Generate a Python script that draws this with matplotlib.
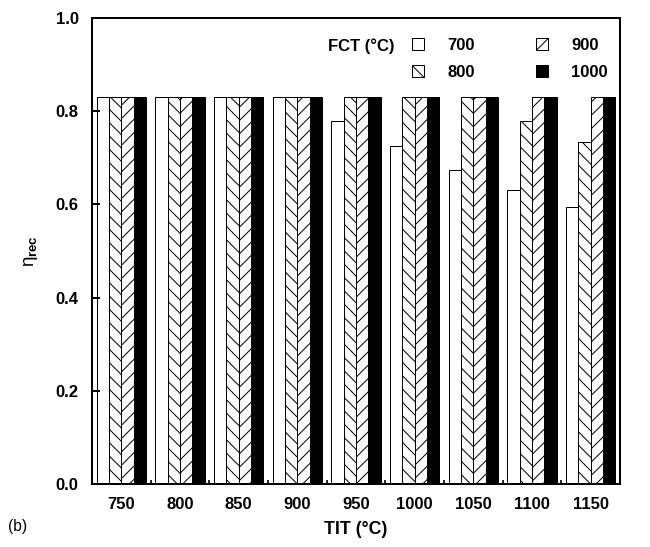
import numpy as np
import matplotlib.pyplot as plt

plt.rcParams['font.family'] = ['Liberation Sans', 'DejaVu Sans']
plt.rcParams['hatch.linewidth'] = 0.9
plt.rcParams['mathtext.fontset'] = 'custom'
plt.rcParams['mathtext.rm'] = 'Liberation Sans'
plt.rcParams['mathtext.bf'] = 'Liberation Sans:bold'
plt.rcParams['mathtext.it'] = 'Liberation Sans'

# TIT (°C) categories
tit = ['750', '800', '850', '900', '950', '1000', '1050', '1100', '1150']
# eta_rec for each FCT (°C)
fct_700 = [0.83, 0.83, 0.83, 0.83, 0.779, 0.725, 0.674, 0.631, 0.594]
fct_800 = [0.83, 0.83, 0.83, 0.83, 0.83, 0.83, 0.83, 0.779, 0.734]
fct_900 = [0.83, 0.83, 0.83, 0.83, 0.83, 0.83, 0.83, 0.83, 0.83]
fct_1000 = [0.83, 0.83, 0.83, 0.83, 0.83, 0.83, 0.83, 0.83, 0.83]

series = [('700', fct_700, 'white', ''),
          ('800', fct_800, 'white', '\\\\'),
          ('900', fct_900, 'white', '//'),
          ('1000', fct_1000, 'black', '')]

fs = 15

fig = plt.figure(figsize=(650 / 80, 547 / 80), dpi=80)
ax = fig.add_axes([92 / 650, 1 - 484 / 547, 528 / 650, 466 / 547])

x = np.arange(len(tit))
w = 0.21
handles = []
for i, (lab, vals, col, hatch) in enumerate(series):
    b = ax.bar(x + (i - 1.5) * w, vals, w, color=col, edgecolor='black',
               hatch=hatch, linewidth=0.9, label=lab)
    handles.append(b)

ax.set_xlim(-0.5, len(tit) - 0.5)
ax.set_ylim(0, 1.0)
yt = np.arange(0, 1.01, 0.2)
ax.set_yticks(yt)
ax.set_yticklabels([f'{v:.1f}' for v in yt], fontweight='bold', fontsize=fs)
ax.set_xticks(x)
ax.set_xticklabels(tit, fontweight='bold', fontsize=fs)
ax.set_xticks(np.arange(0.5, len(tit) - 1, 1), minor=True)
ax.tick_params(axis='x', which='major', length=0, pad=12)
ax.tick_params(axis='x', which='minor', direction='in', length=4, width=1.5)
ax.tick_params(axis='y', direction='in', length=7, width=1.8, pad=12)
for s in ax.spines.values():
    s.set_linewidth(1.8)

ax.set_xlabel('TIT (°C)', fontweight='bold', fontsize=16, labelpad=8)
ax.set_ylabel(r'$\eta_{\mathbf{rec}}$', fontsize=17, labelpad=14)

fig.text(8 / 650, 1 - 527 / 547, '(b)', fontsize=14, va='center', ha='left')
fig.text(395 / 650, 1 - 46 / 547, 'FCT (°C)', fontsize=fs, fontweight='bold',
         va='center', ha='right')

leg = ax.legend(handles=handles, ncol=2, frameon=False, loc='upper left',
                bbox_to_anchor=(412 / 650, 1 - 38 / 547),
                bbox_transform=fig.transFigure, borderpad=0, borderaxespad=0,
                handlelength=0.7, handleheight=0.7, handletextpad=1.4,
                columnspacing=3.7, labelspacing=0.7,
                prop={'weight': 'bold', 'size': fs})

fig.savefig('out.png', dpi=80)
